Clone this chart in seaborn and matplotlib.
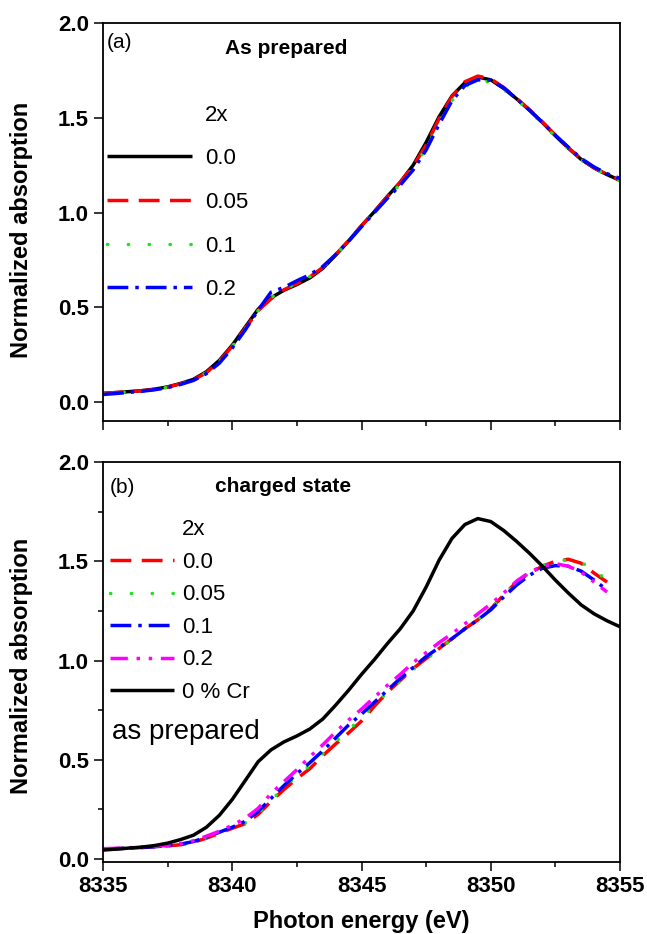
import numpy as np
import pandas as pd
import seaborn as sns
import matplotlib
matplotlib.use("Agg")
import matplotlib.pyplot as plt
from matplotlib.lines import Line2D
from matplotlib.ticker import MultipleLocator

# ---------------- data ----------------
energy = [8335.0 + 0.5 * i for i in range(41)]          # 8335 .. 8355
energy_chg = [8335.0 + 0.5 * i for i in range(40)]      # 8335 .. 8354.5

# (a) As prepared, 2x = 0.0 (also "0 % Cr as prepared" in (b))
prep_00 = [0.045, 0.050, 0.055, 0.060, 0.068, 0.080, 0.098, 0.120, 0.160, 0.220,
           0.300, 0.395, 0.490, 0.550, 0.590, 0.620, 0.655, 0.705, 0.775, 0.850,
           0.930, 1.005, 1.085, 1.160, 1.250, 1.370, 1.505, 1.615, 1.685, 1.715,
           1.700, 1.655, 1.600, 1.540, 1.475, 1.405, 1.340, 1.280, 1.235, 1.200,
           1.170]
prep_005 = [0.047, 0.050, 0.054, 0.060, 0.067, 0.079, 0.096, 0.117, 0.155, 0.215,
            0.295, 0.388, 0.482, 0.545, 0.592, 0.625, 0.660, 0.710, 0.778, 0.852,
            0.930, 1.005, 1.083, 1.160, 1.245, 1.355, 1.495, 1.612, 1.690, 1.720,
            1.705, 1.660, 1.602, 1.542, 1.478, 1.408, 1.342, 1.282, 1.236, 1.200,
            1.170]
prep_01 = [0.045, 0.049, 0.054, 0.059, 0.067, 0.078, 0.095, 0.117, 0.155, 0.213,
           0.293, 0.386, 0.483, 0.550, 0.595, 0.628, 0.662, 0.710, 0.776, 0.850,
           0.928, 1.002, 1.078, 1.150, 1.232, 1.340, 1.475, 1.590, 1.665, 1.692,
           1.690, 1.650, 1.595, 1.535, 1.470, 1.400, 1.337, 1.278, 1.232, 1.198,
           1.168]
prep_02 = [0.040, 0.045, 0.051, 0.057, 0.065, 0.076, 0.093, 0.114, 0.150, 0.205,
           0.285, 0.380, 0.485, 0.580, 0.605, 0.640, 0.672, 0.715, 0.778, 0.848,
           0.925, 1.000, 1.075, 1.145, 1.225, 1.330, 1.465, 1.590, 1.670, 1.700,
           1.698, 1.658, 1.600, 1.540, 1.475, 1.408, 1.345, 1.285, 1.240, 1.205,
           1.180]

# (b) charged state
chg_00 = [0.050, 0.052, 0.055, 0.058, 0.062, 0.066, 0.072, 0.085, 0.105, 0.130,
          0.155, 0.178, 0.225, 0.290, 0.350, 0.405, 0.455, 0.520, 0.580, 0.635,
          0.695, 0.770, 0.840, 0.900, 0.960, 1.010, 1.060, 1.110, 1.160, 1.205,
          1.260, 1.330, 1.395, 1.440, 1.475, 1.500, 1.510, 1.490, 1.440, 1.395]
chg_005 = [0.050, 0.052, 0.055, 0.058, 0.062, 0.067, 0.074, 0.087, 0.107, 0.132,
           0.158, 0.182, 0.228, 0.295, 0.360, 0.420, 0.470, 0.530, 0.590, 0.650,
           0.710, 0.775, 0.840, 0.895, 0.955, 1.005, 1.058, 1.108, 1.158, 1.205,
           1.260, 1.328, 1.392, 1.440, 1.478, 1.500, 1.508, 1.495, 1.452, 1.408]
chg_01 = [0.050, 0.052, 0.055, 0.058, 0.062, 0.067, 0.075, 0.088, 0.110, 0.135,
          0.160, 0.190, 0.240, 0.305, 0.370, 0.430, 0.485, 0.545, 0.610, 0.675,
          0.730, 0.790, 0.850, 0.910, 0.965, 1.020, 1.065, 1.110, 1.160, 1.205,
          1.255, 1.320, 1.380, 1.430, 1.465, 1.478, 1.475, 1.450, 1.405, 1.355]
chg_02 = [0.052, 0.054, 0.057, 0.060, 0.064, 0.069, 0.077, 0.092, 0.115, 0.140,
          0.170, 0.205, 0.255, 0.330, 0.390, 0.450, 0.515, 0.575, 0.640, 0.700,
          0.755, 0.815, 0.875, 0.930, 0.990, 1.040, 1.090, 1.135, 1.185, 1.235,
          1.285, 1.340, 1.400, 1.445, 1.475, 1.488, 1.475, 1.445, 1.395, 1.345]

labels_a = ["0.0", "0.05", "0.1", "0.2"]
labels_b = ["0.0", "0.05", "0.1", "0.2", "0 % Cr"]
x_ticks = [8335, 8340, 8345, 8350, 8355]

# ---------------- style ----------------
sns.set_style("ticks")
plt.rcParams["font.family"] = ["Liberation Sans", "DejaVu Sans"]
plt.rcParams["axes.linewidth"] = 1.3
plt.rcParams["text.color"] = "black"
plt.rcParams["axes.labelcolor"] = "black"
plt.rcParams["xtick.color"] = "black"
plt.rcParams["ytick.color"] = "black"
plt.rcParams["axes.edgecolor"] = "black"

BLACK, RED, GREEN, BLUE, MAGENTA = "#000000", "#ff0000", "#22e022", "#0000ff", "#ff00ff"
LW = 2.5
SOLID = "-"
DASH = (0, (6, 3))
DOT = (0, (0.1, 5.9))
DASHDOT = (0, (6, 2, 1, 2))
DASHDOTDOT = (0, (5, 2.5, 1, 2.5, 1, 2.5))

W, H = 647, 934
fig = plt.figure(figsize=(W / 100, H / 100), dpi=100)
ax1 = fig.add_axes([103 / W, (H - 421) / H, 517 / W, 398 / H])
ax2 = fig.add_axes([103 / W, (H - 862) / H, 517 / W, 400 / H])


def draw(ax, x, y, color, ls, label):
    cap = "round" if ls == DOT else "butt"
    sns.lineplot(x=x, y=y, ax=ax, color=color, linestyle=ls, linewidth=LW,
                 estimator=None, sort=True, label=label,
                 dash_capstyle=cap, solid_capstyle="butt", solid_joinstyle="round")


# panel (a)
draw(ax1, energy, prep_00, BLACK, SOLID, labels_a[0])
draw(ax1, energy, prep_005, RED, DASH, labels_a[1])
draw(ax1, energy, prep_01, GREEN, DOT, labels_a[2])
draw(ax1, energy, prep_02, BLUE, DASHDOT, labels_a[3])

# panel (b)
draw(ax2, energy_chg, chg_00, RED, DASH, labels_b[0])
draw(ax2, energy_chg, chg_005, GREEN, DOT, labels_b[1])
draw(ax2, energy_chg, chg_01, BLUE, DASHDOT, labels_b[2])
draw(ax2, energy_chg, chg_02, MAGENTA, DASHDOTDOT, labels_b[3])
draw(ax2, energy, prep_00, BLACK, SOLID, labels_b[4])

for ax, ylo, yminor in ((ax1, -0.1, False), (ax2, -0.015, True)):
    ax.set_xlim(8335, 8355)
    ax.set_ylim(ylo, 2.0)
    ax.set_xticks(x_ticks)
    ax.xaxis.set_minor_locator(MultipleLocator(2.5))
    ax.set_yticks([0.0, 0.5, 1.0, 1.5, 2.0])
    ax.set_yticklabels(["0.0", "0.5", "1.0", "1.5", "2.0"])
    if yminor:
        ax.yaxis.set_minor_locator(MultipleLocator(0.25))
    for s in ax.spines.values():
        s.set_visible(True)
        s.set_linewidth(1.3)
        s.set_color("black")
    ax.tick_params(axis="both", which="major", direction="out", length=6.5,
                   width=1.1, labelsize=16, pad=3.5, colors="black",
                   top=False, right=False)
    ax.tick_params(axis="both", which="minor", direction="out", length=3.5,
                   width=1.1, top=False, right=False, colors="black")
    for t in ax.get_xticklabels() + ax.get_yticklabels():
        t.set_fontweight("bold")
    ax.set_ylabel("Normalized absorption", fontsize=17, fontweight="bold", color="black")
    ax.yaxis.set_label_coords(-0.135, 0.48 if ax is ax1 else 0.49)

ax1.tick_params(axis="x", labelbottom=False)
ax1.set_xlabel("")
ax2.set_xlabel("Photon energy (eV)", fontsize=17, fontweight="bold", color="black")
ax2.xaxis.set_label_coords(0.5, -0.12)

# annotations
ax1.text(0.008, 0.952, "(a)", transform=ax1.transAxes, fontsize=15, va="center", ha="left")
ax1.text(0.236, 0.937, "As prepared", transform=ax1.transAxes, fontsize=15,
         fontweight="bold", va="center", ha="left")
ax2.text(0.0135, 0.935, "(b)", transform=ax2.transAxes, fontsize=15, va="center", ha="left")
ax2.text(0.217, 0.9375, "charged state", transform=ax2.transAxes, fontsize=15,
         fontweight="bold", va="center", ha="left")
ax2.text(0.0174, 0.325, "as prepared", transform=ax2.transAxes, fontsize=20,
         va="center", ha="left")

# legends
blank = Line2D([], [], linestyle="none")
h1 = ax1.get_lines()[:4]
leg1 = ax1.legend(handles=[blank] + list(h1), labels=["2x"] + labels_a, loc="upper left",
                  bbox_to_anchor=(0.008, 0.795), frameon=False, fontsize=16,
                  handlelength=3.8, handletextpad=0.6, labelspacing=1.02,
                  borderpad=0, borderaxespad=0)
h2 = ax2.get_lines()[:5]
leg2 = ax2.legend(handles=[blank] + list(h2), labels=["2x"] + labels_b, loc="upper left",
                  bbox_to_anchor=(0.0135, 0.857), frameon=False, fontsize=16,
                  handlelength=2.9, handletextpad=0.35, labelspacing=0.52,
                  borderpad=0, borderaxespad=0)
for leg in (leg1, leg2):
    for t in leg.get_texts():
        t.set_color("black")

fig.savefig("out.png", dpi=100)
